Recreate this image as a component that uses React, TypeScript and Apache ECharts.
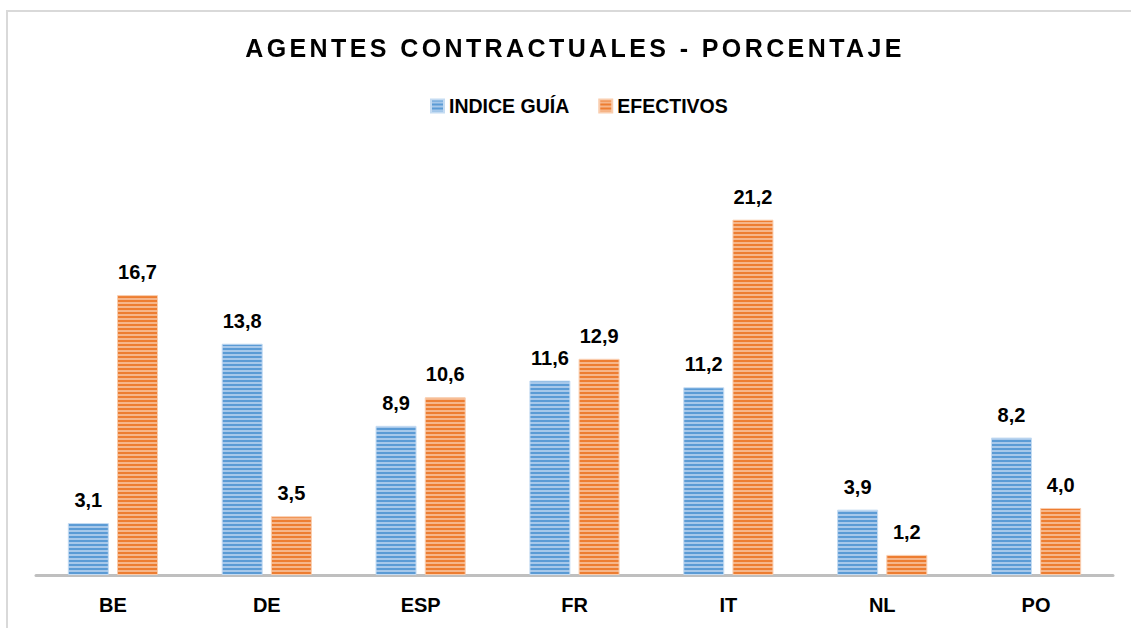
import React, { useEffect, useRef } from "react";
import * as echarts from "echarts";

const categories = ["BE", "DE", "ESP", "FR", "IT", "NL", "PO"];
const indiceGuia = [3.1, 13.8, 8.9, 11.6, 11.2, 3.9, 8.2];
const efectivos = [16.7, 3.5, 10.6, 12.9, 21.2, 1.2, 4.0];
const seriesNames = ["INDICE GUÍA", "EFECTIVOS"];
const titleText = "AGENTES CONTRACTUALES - PORCENTAJE";

const FONT = "'Liberation Sans', Arial, sans-serif";

function stripe(dark: string, light: string): string {
  const c = document.createElement("canvas");
  c.width = 4;
  c.height = 4;
  const ctx = c.getContext("2d")!;
  ctx.fillStyle = light;
  ctx.fillRect(0, 0, 4, 4);
  ctx.fillStyle = dark;
  ctx.fillRect(0, 0, 4, 2);
  return c.toDataURL();
}

export default function App() {
  const ref = useRef<HTMLDivElement>(null);
  useEffect(() => {
    const chart = echarts.init(ref.current!, undefined, { renderer: "svg" });
    const blue = { image: stripe("#5b9bd5", "#a7c8ea"), repeat: "repeat" } as any;
    const orange = { image: stripe("#ed7d31", "#f6b68a"), repeat: "repeat" } as any;
    const label = {
      show: true,
      position: "top",
      distance: 13,
      color: "#000",
      fontFamily: FONT,
      fontWeight: "bold",
      fontSize: 20,
      formatter: (p: any) => p.value.toFixed(1).replace(".", ","),
    };
    chart.setOption({
      animation: false,
      backgroundColor: "#fff",
      graphic: [
        {
          type: "rect",
          shape: { x: 7, y: 11, width: 1300, height: 800 },
          style: { fill: "none", stroke: "#d9d9d9", lineWidth: 2 },
          silent: true,
        },
      ],
      legend: {
        top: 91,
        left: 425,
        icon: "rect",
        itemWidth: 13,
        itemHeight: 13,
        itemGap: 29,
        textStyle: { fontFamily: FONT, fontWeight: "bold", fontSize: 19.5, color: "#000" },
        data: seriesNames,
      },
      grid: { left: 36, right: 18, top: 156, bottom: 53, containLabel: false },
      xAxis: {
        type: "category",
        data: categories,
        axisLine: { lineStyle: { color: "#bfbfbf", width: 3 } },
        axisTick: { show: false },
        axisLabel: {
          color: "#000",
          fontFamily: FONT,
          fontWeight: "bold",
          fontSize: 20,
          margin: 20,
        },
      },
      yAxis: {
        type: "value",
        min: 0,
        max: 25,
        show: false,
        splitLine: { show: false },
      },
      series: [
        {
          name: seriesNames[0],
          type: "bar",
          data: indiceGuia,
          barWidth: 41,
          barGap: "20%",
          itemStyle: { color: blue, borderColor: "#c4dbf2", borderWidth: 1 },
          label,
        },
        {
          name: seriesNames[1],
          type: "bar",
          data: efectivos,
          barWidth: 41,
          itemStyle: { color: orange, borderColor: "#f9cdae", borderWidth: 1 },
          label,
        },
      ],
    });
    return () => chart.dispose();
  }, []);
  return (
    <div style={{ position: "fixed", left: 0, top: 0, width: 1131, height: 628, background: "#fff" }}>
      <div ref={ref} style={{ position: "absolute", left: 0, top: 0, width: 1131, height: 628 }} />
      <div
        style={{
          position: "absolute",
          left: 0,
          top: 33,
          width: 1150,
          textAlign: "center",
          fontFamily: FONT,
          fontWeight: "bold",
          fontSize: 25,
          letterSpacing: 3.4,
          color: "#000",
          lineHeight: "30px",
          pointerEvents: "none",
        }}
      >
        {titleText}
      </div>
    </div>
  );
}
